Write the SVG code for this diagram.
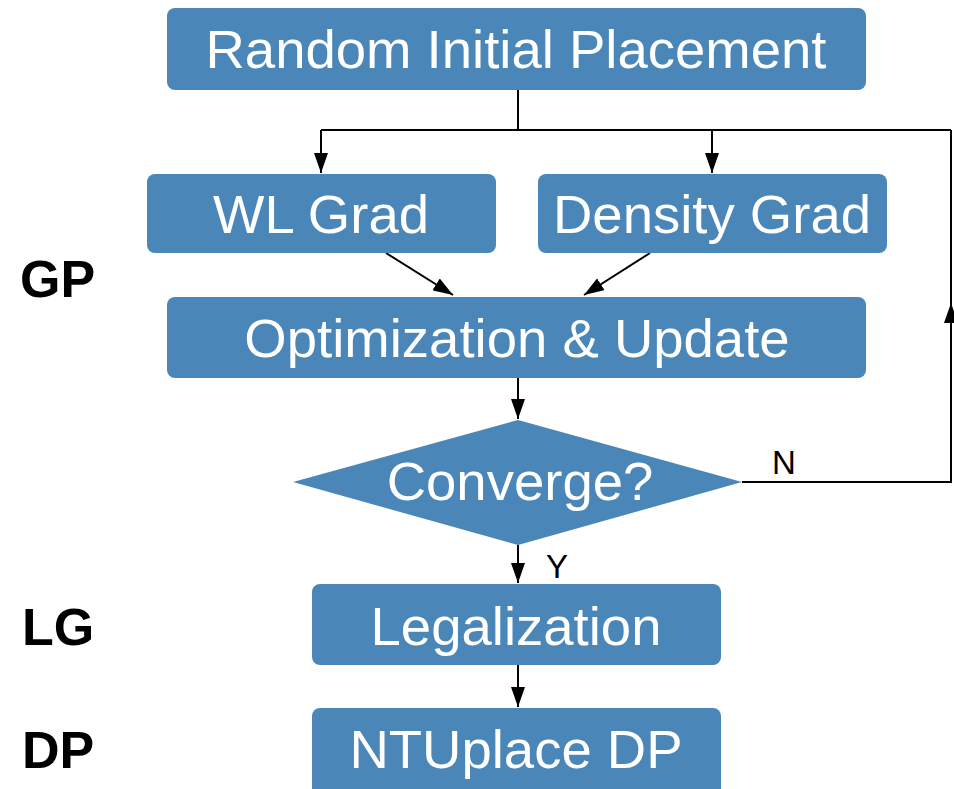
<svg xmlns="http://www.w3.org/2000/svg" width="954" height="789" viewBox="0 0 954 789">
  <style>
    .box { fill: #4a86b8; }
    .lbl { font-family: "Liberation Sans", Arial, sans-serif; font-size: 54.5px; fill: #ffffff; text-anchor: middle; }
    .side { font-family: "Liberation Sans", Arial, sans-serif; font-size: 52px; font-weight: bold; fill: #000000; }
    .tag { font-family: "Liberation Sans", Arial, sans-serif; font-size: 33px; fill: #000000; }
    .wire { fill: none; stroke: #000000; stroke-width: 2; }
  </style>
  <defs>
    <marker id="arrowL" markerUnits="userSpaceOnUse" markerWidth="20" markerHeight="14" viewBox="0 0 20 14" refX="20" refY="7" orient="auto">
      <path d="M0,0 L20,7 L0,14 Z" fill="#000000"/>
    </marker>
  </defs>

  <g id="connectors">
    <!-- fan-out from initial placement -->
    <path class="wire" d="M518,90 V130"/>
    <path class="wire" d="M321,130 H951"/>
    <path class="wire" d="M321,130 V173" marker-end="url(#arrowL)"/>
    <path class="wire" d="M712,130 V173" marker-end="url(#arrowL)"/>
    <!-- gradients into optimization -->
    <path class="wire" d="M386,253 L453,295" marker-end="url(#arrowL)"/>
    <path class="wire" d="M650,253 L584,295" marker-end="url(#arrowL)"/>
    <!-- optimization to convergence check -->
    <path class="wire" d="M518,378 V419" marker-end="url(#arrowL)"/>
    <!-- N: loop back -->
    <path class="wire" d="M742,482 H951 V130"/>
    <path class="wire" d="M951,340 V303" marker-end="url(#arrowL)"/>
    <!-- Y: go on to legalization -->
    <path class="wire" d="M518,545 V583" marker-end="url(#arrowL)"/>
    <path class="wire" d="M518,665 V707" marker-end="url(#arrowL)"/>
    <text class="tag" x="772" y="474">N</text>
    <text class="tag" x="546" y="578">Y</text>
  </g>

  <g id="random-initial-placement">
    <rect class="box" x="167" y="8" width="699" height="82" rx="8"/>
    <text class="lbl" x="516" y="68">Random Initial Placement</text>
  </g>
  <g id="wl-grad">
    <rect class="box" x="147" y="174" width="349" height="79" rx="8"/>
    <text class="lbl" x="321" y="233">WL Grad</text>
  </g>
  <g id="density-grad">
    <rect class="box" x="538" y="174" width="349" height="79" rx="8"/>
    <text class="lbl" x="712" y="233">Density Grad</text>
  </g>
  <g id="optimization-update">
    <rect class="box" x="167" y="297" width="699" height="81" rx="8"/>
    <text class="lbl" x="517" y="357">Optimization &amp; Update</text>
  </g>
  <g id="converge">
    <polygon class="box" points="518,420 742,482 518,545 293,482"/>
    <text class="lbl" x="520" y="500">Converge?</text>
  </g>
  <g id="legalization">
    <rect class="box" x="312" y="584" width="409" height="81" rx="8"/>
    <text class="lbl" x="516" y="645">Legalization</text>
  </g>
  <g id="ntuplace-dp">
    <rect class="box" x="312" y="708" width="409" height="90" rx="8"/>
    <text class="lbl" x="516" y="768">NTUplace DP</text>
  </g>

  <g id="stage-labels">
    <text class="side" x="20" y="297">GP</text>
    <text class="side" x="22" y="645">LG</text>
    <text class="side" x="22" y="768">DP</text>
  </g>
</svg>
